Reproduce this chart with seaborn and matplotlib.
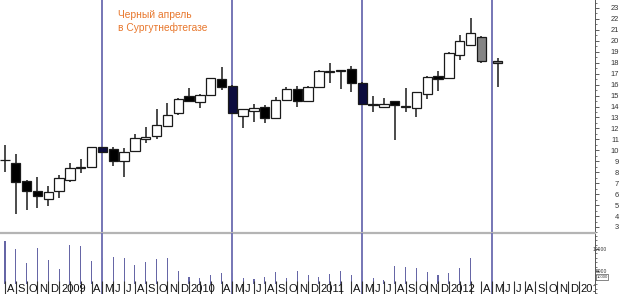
import matplotlib
matplotlib.use('Agg')
import matplotlib.pyplot as plt
from matplotlib.patches import Rectangle
from matplotlib.ticker import MultipleLocator, FixedLocator
import seaborn as sns

# ---------------- data ----------------
month_labels = ['A', 'S', 'O', 'N', 'D', '2009', '', '', 'A', 'M', 'J', 'J',
                'A', 'S', 'O', 'N', 'D', '2010', '', '', 'A', 'M', 'J', 'J',
                'A', 'S', 'O', 'N', 'D', '2011', '', '', 'A', 'M', 'J', 'J',
                'A', 'S', 'O', 'N', 'D', '2012', '', '', 'A', 'M', 'J', 'J',
                'A', 'S', 'O', 'N', 'D', '2013']

candle_x = list(range(45)) + [45.5]
opens = [9.15, 8.84, 7.2, 6.3, 5.6, 6.3, 7.3, 8.35, 8.5, 10.3,
         10.1, 9.05, 9.95, 11.0, 11.3, 12.2, 13.4, 14.96, 14.45, 15.05,
         16.5, 15.9, 13.14, 13.6, 13.96, 12.95, 14.6, 15.6, 14.5, 15.8,
         17.15, 17.25, 17.43, 16.15, 14.2, 13.96, 14.5, 14.0, 13.87, 15.15,
         16.8, 16.6, 18.7, 19.6, 20.35, 18.2]
highs = [10.5, 9.67, 7.25, 7.57, 6.74, 7.75, 8.84, 9.2, 10.3, 10.35,
         10.3, 10.2, 11.5, 12.1, 13.78, 14.3, 14.75, 15.7, 15.1, 16.65,
         17.65, 15.95, 13.8, 14.2, 14.14, 14.87, 15.8, 15.9, 15.85, 17.3,
         17.98, 17.35, 17.7, 16.2, 14.96, 14.78, 14.55, 15.7, 15.35, 16.75,
         17.25, 18.95, 20.5, 22.1, 20.4, 18.4]
lows = [8.0, 4.19, 4.55, 4.74, 4.92, 5.65, 7.1, 7.93, 8.45, 9.8,
        8.57, 7.57, 9.9, 10.7, 11.0, 12.1, 13.2, 14.4, 13.87, 15.0,
        15.5, 13.4, 12.04, 12.6, 12.5, 12.9, 14.55, 13.96, 14.45, 15.75,
        16.15, 15.6, 15.3, 14.23, 13.5, 13.87, 10.95, 13.5, 13.05, 14.7,
        15.4, 16.55, 18.25, 19.55, 17.98, 15.8]
closes = [9.1, 7.1, 6.3, 5.8, 6.2, 7.47, 8.4, 8.5, 10.3, 9.85,
          9.05, 9.85, 11.1, 11.2, 12.3, 13.2, 14.7, 14.5, 15.05, 16.6,
          15.8, 13.4, 13.78, 13.87, 12.95, 14.6, 15.6, 14.5, 15.8, 17.25,
          17.2, 17.3, 16.15, 14.25, 14.1, 14.23, 14.14, 14.05, 15.33, 16.7,
          16.55, 18.9, 20.0, 20.7, 18.2, 18.0]

vol_x = list(range(44))
volumes = [11900, 10000, 6800, 10200, 7500, 5450, 10900, 10750, 7270, 8000,
           8250, 7950, 6360, 7110, 7730, 7950, 5070, 3700, 3400, 4090,
           4610, 4500, 3400, 3180, 3700, 4770, 3400, 5000, 4200, 3700,
           4320, 5070, 4090, 5000, 3400, 2950, 6140, 5900, 5680, 4840,
           4090, 4550, 5680, 7950]

marker_months = [9, 21, 33, 45]
note_text = 'Черный апрель\nв Сургутнефтегазе'
vol_unit_text = '10000'

# ---------------- style ----------------
sns.set_theme(style='white')
plt.rcParams['font.family'] = ['Liberation Sans', 'DejaVu Sans']

W, H = 620, 294
fig = plt.figure(figsize=(W / 100, H / 100), dpi=100)
fig.patch.set_facecolor('white')
ax = fig.add_axes([0, 61 / H, 595 / W, 233 / H])
axv = fig.add_axes([0, 0, 595 / W, 61 / H])

edge = '#1a1a1a'
navy = '#0c0c3e'
gray_fill = '#858585'

# ---------------- price panel ----------------
fills = []
for k, (xx, o, c) in enumerate(zip(candle_x, opens, closes)):
    if xx in marker_months:
        fills.append(navy)
    elif k >= 44:
        fills.append(gray_fill)
    elif c < o:
        fills.append('black')
    else:
        fills.append('white')

bottoms = [min(o, c) for o, c in zip(opens, closes)]
heights = [abs(c - o) for o, c in zip(opens, closes)]

for m in marker_months:
    ax.axvline(m, color='#7676b6', lw=1.4, zorder=1)

ax.vlines(candle_x, lows, highs, color=edge, lw=1.1, zorder=2)
ax.bar(candle_x, heights, bottom=bottoms, width=0.86, color=fills,
       edgecolor=edge, linewidth=0.9, zorder=3)

ax.text(118 / 595, 1 - 10 / 233, note_text, transform=ax.transAxes,
        ha='left', va='top', fontsize=7.4, color='#e8782e', linespacing=1.25)

ax.set_xlim(-0.46, 54.5)
ax.set_ylim(2.45, 23.73)
ax.yaxis.tick_right()
ax.yaxis.set_major_locator(MultipleLocator(1))
ax.yaxis.set_minor_locator(MultipleLocator(0.5))
ax.tick_params(axis='y', which='major', direction='out', length=3, width=0.6,
               color='#444444', labelsize=5.4, labelcolor='#333333', pad=14.4,
               right=True, left=False)
ax.tick_params(axis='y', which='minor', direction='out', length=1.6, width=0.5,
               color='#444444', right=True, left=False)
plt.setp(ax.get_yticklabels(), ha='right')
ax.tick_params(axis='x', bottom=False, labelbottom=False)
for s in ['top', 'left', 'bottom']:
    ax.spines[s].set_visible(False)
ax.spines['right'].set_color('#555555')
ax.spines['right'].set_linewidth(0.7)
ax.set_facecolor('white')
ax.grid(False)

# ---------------- volume panel ----------------
sns.barplot(x=vol_x, y=volumes, native_scale=True, width=0.1, color='#6666a6',
            saturation=1, linewidth=0, ax=axv, zorder=2)
axv.set_xlabel('')
axv.set_ylabel('')
for m in marker_months:
    axv.axvline(m, color='#7676b6', lw=1.4, zorder=4)

axv.add_patch(Rectangle((0, 0), 1, 10.5 / 61, transform=axv.transAxes,
                        facecolor='white', edgecolor='none', zorder=3))
axv.vlines(range(len(month_labels)), 0, 13 / 61,
           transform=axv.get_xaxis_transform(), color='#333333', lw=0.8, zorder=4)
for i, lab in enumerate(month_labels):
    if lab:
        axv.text(i + 0.17, 1.6 / 61, lab, transform=axv.get_xaxis_transform(),
                 ha='left', va='baseline', fontsize=8, color='#111111',
                 clip_on=True, zorder=5)

axv.set_xlim(-0.46, 54.5)
axv.set_ylim(-227, 13636)
axv.yaxis.tick_right()
axv.yaxis.set_major_locator(FixedLocator([5000, 10000]))
axv.yaxis.set_minor_locator(MultipleLocator(1000))
axv.tick_params(axis='y', which='major', direction='out', length=3, width=0.6,
                color='#444444', labelsize=3.6, labelcolor='#333333', pad=5.8,
                right=True, left=False)
axv.tick_params(axis='y', which='minor', direction='out', length=1.6, width=0.5,
                color='#444444', right=True, left=False)
plt.setp(axv.get_yticklabels(), ha='right')
axv.tick_params(axis='x', bottom=False, labelbottom=False)
for s in ['left', 'bottom']:
    axv.spines[s].set_visible(False)
axv.spines['top'].set_color('#b4b4b4')
axv.spines['top'].set_linewidth(1.6)
axv.spines['right'].set_color('#555555')
axv.spines['right'].set_linewidth(0.7)
axv.set_facecolor('white')
axv.grid(False)

fig.text(602 / W, (H - 277) / H, vol_unit_text, fontsize=3, ha='center',
         va='center', color='#333333',
         bbox=dict(boxstyle='square,pad=0.15', fc='white', ec='#555555', lw=0.5))

fig.savefig('out.png', dpi=100, facecolor='white')
